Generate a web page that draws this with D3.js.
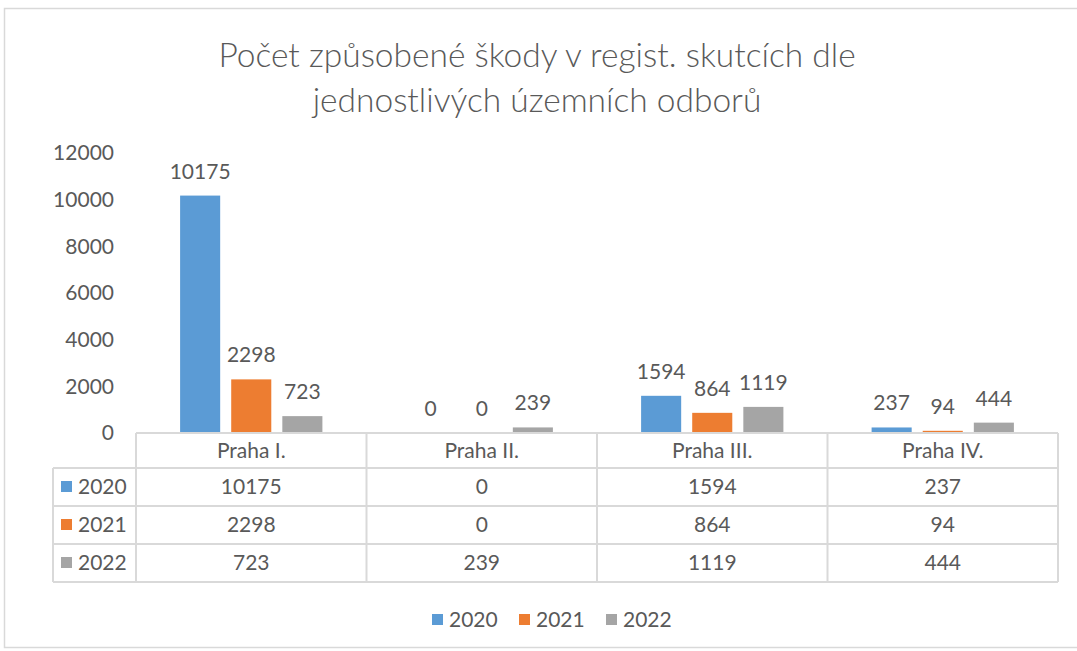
<!DOCTYPE html>
<html>
<head>
<meta charset="utf-8">
<script src="https://cdn.jsdelivr.net/npm/d3@7"></script>
<style>
	body { margin: 0; background: #fff; }
	text { font-family: Lato, 'Open Sans', sans-serif; fill: #595959; }
</style>
</head>
<body>
<div id="chart"></div>
<script>
/*

*	Data

*/
var categories = ['Praha I.', 'Praha II.', 'Praha III.', 'Praha IV.'];
var years = ['2020', '2021', '2022'];
var values2020 = [10175, 0, 1594, 237];
var values2021 = [2298, 0, 864, 94];
var values2022 = [723, 239, 1119, 444];
var yTicks = [0, 2000, 4000, 6000, 8000, 10000, 12000];
var colors = ['#5B9BD5', '#ED7D31', '#A5A5A5'];
var titleLines = ['Počet způsobené škody v regist. skutcích dle', 'jednostlivých územních odborů'];

var series = [values2020, values2021, values2022];

/*

*	Setup

*/
var W = 1077, H = 651;
var fs = '21px';

var svg = d3
	.select('#chart')
	.append('svg')
	.attr('width', W)
	.attr('height', H);

// outer frame
svg
	.append('rect')
	.attr('x', 4.5)
	.attr('y', 8.5)
	.attr('width', 1090)
	.attr('height', 639)
	.attr('fill', 'none')
	.attr('stroke', '#d9d9d9')
	.attr('stroke-width', 1.5);

// title
svg
	.append('g')
	.selectAll('text')
	.data(titleLines)
	.join('text')
	.attr('x', 537)
	.attr('y', function (d, i) {
		return 67 + i * 45;
	})
	.attr('text-anchor', 'middle')
	.style('font-size', '33.5px')
	.style('font-weight', 300)
	.text(function (d) {
		return d;
	});

var x = d3.scaleBand().domain(categories).range([136, 1058]);
var xg = d3.scaleBand().domain(years).range([0, x.bandwidth()]).paddingInner(0.216).paddingOuter(0.863);
var y = d3.scaleLinear().domain([0, 12000]).range([433, 153]);

/*

*	Y axis

*/
var yAxis = d3.axisLeft(y).tickValues(yTicks).tickSize(0).tickPadding(0).tickFormat(d3.format('d'));

var gy = svg
	.append('g')
	.attr('transform', 'translate(114,0)')
	.call(yAxis);
gy.select('.domain').remove();
gy.selectAll('text')
	.style('font-size', fs)
	.style('font-family', 'Lato, sans-serif')
	.attr('fill', '#595959');

/*

*	Bars + labels

*/
function cellsFor(d, ci) {
	return years.map(function (yr, si) {
		return { year: yr, value: series[si][ci], color: colors[si] };
	});
}

var groups = svg
	.append('g')
	.selectAll('g')
	.data(categories)
	.join('g')
	.attr('transform', function (d) {
		return 'translate(' + x(d) + ',0)';
	});

groups
	.selectAll('rect')
	.data(cellsFor)
	.join('rect')
	.attr('x', function (d) {
		return xg(d.year);
	})
	.attr('y', function (d) {
		return y(d.value);
	})
	.attr('width', xg.bandwidth())
	.attr('height', function (d) {
		return y(0) - y(d.value);
	})
	.attr('fill', function (d) {
		return d.color;
	});

groups
	.selectAll('text')
	.data(cellsFor)
	.join('text')
	.attr('x', function (d) {
		return xg(d.year) + xg.bandwidth() / 2;
	})
	.attr('y', function (d) {
		return y(d.value) - 17;
	})
	.attr('text-anchor', 'middle')
	.style('font-size', fs)
	.text(function (d) {
		return d.value;
	});

/*

*	Data table

*/
var rowTop = 433;
var headH = 35;
var rowH = 38;
var tableLeft = 53;
var tableRight = x.range()[1];
var tableBottom = rowTop + headH + years.length * rowH;
var table = svg.append('g').attr('stroke', '#d9d9d9').attr('stroke-width', 2);

// horizontal lines
table
	.append('line')
	.attr('x1', x.range()[0])
	.attr('x2', tableRight)
	.attr('y1', rowTop)
	.attr('y2', rowTop);
d3.range(years.length + 1).forEach(function (i) {
	var yy = rowTop + headH + i * rowH;
	table.append('line').attr('x1', tableLeft).attr('x2', tableRight).attr('y1', yy).attr('y2', yy);
});

// vertical lines
table
	.append('line')
	.attr('x1', tableLeft)
	.attr('x2', tableLeft)
	.attr('y1', rowTop + headH)
	.attr('y2', tableBottom);
categories.concat(['end']).forEach(function (c) {
	var xx = c === 'end' ? tableRight : x(c);
	table.append('line').attr('x1', xx).attr('x2', xx).attr('y1', rowTop).attr('y2', tableBottom);
});

// header labels
svg
	.append('g')
	.selectAll('text')
	.data(categories)
	.join('text')
	.attr('x', function (d) {
		return x(d) + x.bandwidth() / 2;
	})
	.attr('y', rowTop + headH / 2 + 7)
	.attr('text-anchor', 'middle')
	.style('font-size', fs)
	.text(function (d) {
		return d;
	});

// row labels with key squares
var rows = svg
	.append('g')
	.selectAll('g')
	.data(years)
	.join('g')
	.attr('transform', function (d, i) {
		return 'translate(0,' + (rowTop + headH + i * rowH + rowH / 2) + ')';
	});

rows
	.append('rect')
	.attr('x', 61)
	.attr('y', -6)
	.attr('width', 11)
	.attr('height', 11)
	.attr('fill', function (d, i) {
		return colors[i];
	});
rows
	.append('text')
	.attr('x', 78)
	.attr('y', 7)
	.style('font-size', fs)
	.text(function (d) {
		return d;
	});

rows
	.selectAll('text.cell')
	.data(function (d, i) {
		return series[i];
	})
	.join('text')
	.attr('class', 'cell')
	.attr('x', function (d, ci) {
		return x(categories[ci]) + x.bandwidth() / 2;
	})
	.attr('y', 7)
	.attr('text-anchor', 'middle')
	.style('font-size', fs)
	.text(function (d) {
		return d;
	});

/*

*	Legend

*/
var legend = svg
	.append('g')
	.selectAll('g')
	.data(years)
	.join('g')
	.attr('transform', function (d, i) {
		return 'translate(' + (432 + i * 87) + ',620)';
	});

legend
	.append('rect')
	.attr('x', 0)
	.attr('y', -6)
	.attr('width', 11)
	.attr('height', 11)
	.attr('fill', function (d, i) {
		return colors[i];
	});
legend
	.append('text')
	.attr('x', 17)
	.attr('y', 7)
	.style('font-size', fs)
	.text(function (d) {
		return d;
	});
</script>
</body>
</html>
